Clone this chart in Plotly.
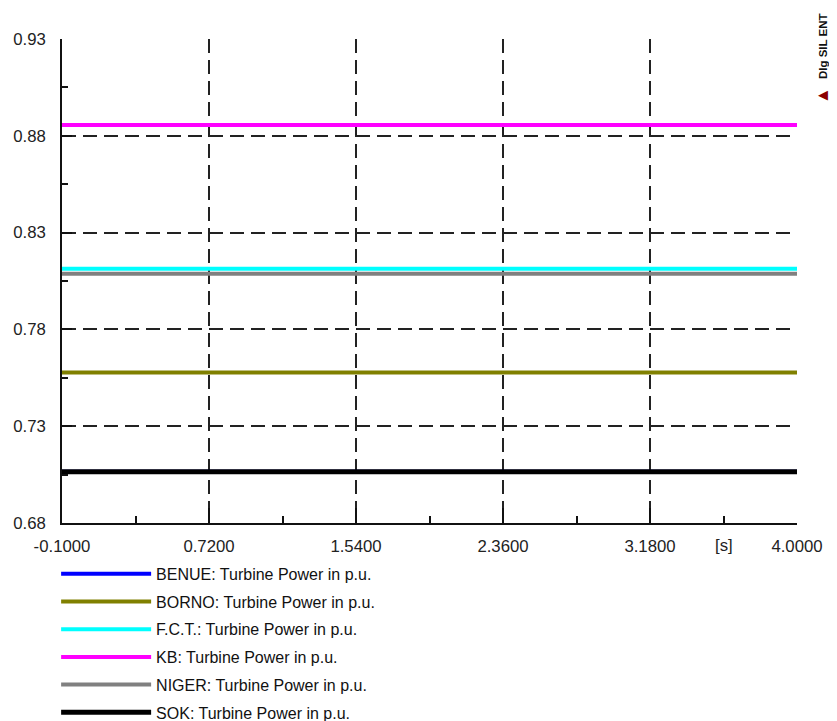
import plotly.graph_objects as go

time_s = [-0.1, 4.0]
series_names = [
    "BENUE: Turbine Power in p.u.",
    "BORNO: Turbine Power in p.u.",
    "F.C.T.: Turbine Power in p.u.",
    "KB: Turbine Power in p.u.",
    "NIGER: Turbine Power in p.u.",
    "SOK: Turbine Power in p.u.",
]
benue = [0.7065, 0.7065]
borno = [0.7578, 0.7578]
fct = [0.8113, 0.8113]
kb = [0.8856, 0.8856]
niger = [0.8087, 0.8087]
sok = [0.7065, 0.7065]
series_values = [benue, borno, fct, kb, niger, sok]
series_colors = ["#0000ff", "#808000", "#00ffff", "#ff00ff", "#808080", "#000000"]
series_widths = [4, 4, 4, 4, 4, 5]

x_ticks = [-0.1, 0.72, 1.54, 2.36, 3.18, 4.0]
x_minor = [0.31, 1.13, 1.95, 2.77, 3.59]
y_ticks = [0.68, 0.73, 0.78, 0.83, 0.88, 0.93]
y_minor = [0.705, 0.755, 0.805, 0.855, 0.905]

fig = go.Figure()
for i, (name, vals, col, w) in enumerate(zip(series_names, series_values, series_colors, series_widths)):
    fig.add_trace(go.Scatter(
        x=time_s, y=vals, mode="lines", name=name,
        line=dict(color=col, width=w), legendgroup=f"g{i}",
    ))

font = dict(family="Liberation Sans, Arial, sans-serif", size=16.75, color="#222222")
grid_dash = "14px,7px"

# page body has an 8px margin, so the figure is 8px smaller and shifted
fig.update_layout(
    width=829, height=713,
    margin=dict(l=54, r=40, t=31, b=198, autoexpand=False),
    plot_bgcolor="white", paper_bgcolor="white",
    font=font,
    showlegend=True,
    legend=dict(
        x=-0.008, y=-0.07, xanchor="left", yanchor="top",
        tracegroupgap=3.9, itemwidth=90,
        font=dict(family="Liberation Sans, Arial, sans-serif", size=16, color="#111111"),
        bgcolor="rgba(0,0,0,0)",
    ),
    xaxis=dict(
        range=[-0.1, 4.0], tickvals=x_ticks,
        ticktext=[f"{v:.4f}" for v in x_ticks],
        showgrid=True, gridcolor="#222222", gridwidth=1.5, griddash=grid_dash,
        showline=True, linecolor="#111111", linewidth=1.5,
        ticks="inside", ticklen=15, tickcolor="#111111", tickwidth=1.5,
        minor=dict(tickvals=x_minor, ticks="inside", ticklen=7,
                   tickcolor="#111111", tickwidth=1.5, showgrid=False),
        zeroline=False, mirror=False, ticklabelstandoff=7,
    ),
    yaxis=dict(
        range=[0.68, 0.93], tickvals=y_ticks,
        ticktext=[f"{v:.2f}" for v in y_ticks],
        showgrid=True, gridcolor="#222222", gridwidth=1.5, griddash=grid_dash,
        showline=True, linecolor="#111111", linewidth=1.5,
        ticks="inside", ticklen=10, tickcolor="#111111", tickwidth=1.5,
        minor=dict(tickvals=y_minor, ticks="inside", ticklen=6,
                   tickcolor="#111111", tickwidth=1.5, showgrid=False),
        zeroline=False, mirror=False, ticklabelstandoff=11,
    ),
)

fig.add_annotation(x=(3.18 + 4.0) / 2, y=0, xref="x", yref="paper", yshift=-22,
                   yanchor="middle", text="[s]", showarrow=False, font=font)
fig.add_annotation(x=1.0354, y=0.9855, xref="paper", yref="paper",
                   xanchor="center", yanchor="middle", text="<b>DIg SIL ENT</b>", textangle=-90,
                   showarrow=False, font=dict(family="Liberation Sans, Arial", size=11.5, color="#111111"))
fig.add_annotation(x=1.036, y=0.886, xref="paper", yref="paper",
                   xanchor="center", yanchor="middle", text="◀", showarrow=False,
                   font=dict(family="DejaVu Sans", size=13, color="#8b0000"))

fig.write_html("out.html")
